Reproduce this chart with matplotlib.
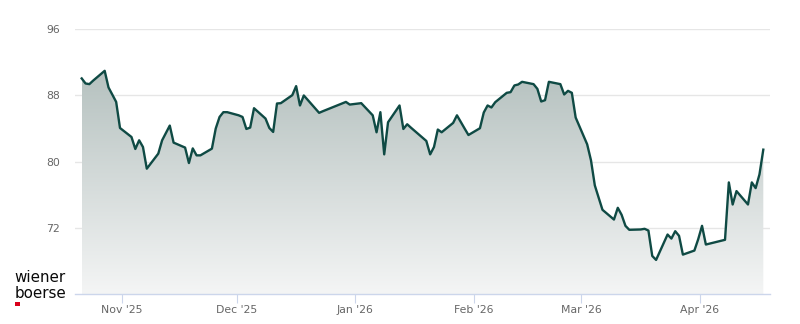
import numpy as np
import pandas as pd
import matplotlib
matplotlib.use("Agg")
import matplotlib.pyplot as plt
import matplotlib.dates as mdates
from matplotlib.colors import LinearSegmentedColormap

# closing prices (trading days)
dates = [
    "2025-10-21", "2025-10-22", "2025-10-23", "2025-10-24", "2025-10-27", "2025-10-28",
    "2025-10-29", "2025-10-30", "2025-10-31",
    "2025-11-03", "2025-11-04", "2025-11-05", "2025-11-06", "2025-11-07",
    "2025-11-10", "2025-11-11", "2025-11-12", "2025-11-13", "2025-11-14",
    "2025-11-17", "2025-11-18", "2025-11-19", "2025-11-20", "2025-11-21",
    "2025-11-24", "2025-11-25", "2025-11-26", "2025-11-27", "2025-11-28",
    "2025-12-01", "2025-12-02", "2025-12-03", "2025-12-04", "2025-12-05",
    "2025-12-08", "2025-12-09", "2025-12-10", "2025-12-11", "2025-12-12",
    "2025-12-15", "2025-12-16", "2025-12-17", "2025-12-18", "2025-12-19",
    "2025-12-22", "2025-12-23", "2025-12-29", "2025-12-30",
    "2026-01-02", "2026-01-05", "2026-01-06", "2026-01-07", "2026-01-08", "2026-01-09",
    "2026-01-12", "2026-01-13", "2026-01-14", "2026-01-15", "2026-01-16",
    "2026-01-19", "2026-01-20", "2026-01-21", "2026-01-22", "2026-01-23",
    "2026-01-26", "2026-01-27", "2026-01-28", "2026-01-29", "2026-01-30",
    "2026-02-02", "2026-02-03", "2026-02-04", "2026-02-05", "2026-02-06",
    "2026-02-09", "2026-02-10", "2026-02-11", "2026-02-12", "2026-02-13",
    "2026-02-16", "2026-02-17", "2026-02-18", "2026-02-19", "2026-02-20",
    "2026-02-23", "2026-02-24", "2026-02-25", "2026-02-26", "2026-02-27",
    "2026-03-02", "2026-03-03", "2026-03-04", "2026-03-05", "2026-03-06",
    "2026-03-09", "2026-03-10", "2026-03-11", "2026-03-12", "2026-03-13",
    "2026-03-16", "2026-03-17", "2026-03-18", "2026-03-19", "2026-03-20",
    "2026-03-23", "2026-03-24", "2026-03-25", "2026-03-26", "2026-03-27",
    "2026-03-30", "2026-03-31", "2026-04-01", "2026-04-02",
    "2026-04-07", "2026-04-08", "2026-04-09", "2026-04-10",
    "2026-04-13", "2026-04-14", "2026-04-15", "2026-04-16", "2026-04-17",
]
prices = [
    90.06, 89.45, 89.37, 89.80, 90.98, 88.97,
    88.10, 87.22, 84.07,
    82.98, 81.53, 82.58, 81.77, 79.15,
    80.97, 82.58, 83.47, 84.36, 82.30,
    81.70, 79.83, 81.60, 80.76, 80.76,
    81.57, 84.00, 85.40, 85.98, 85.98,
    85.60, 85.40, 83.95, 84.12, 86.46,
    85.21, 84.07, 83.59, 87.03, 87.07,
    88.04, 89.13, 86.79, 88.00, 87.48,
    85.90, 86.10, 87.22, 86.90,
    87.07, 85.60, 83.55, 85.98, 80.88, 84.76,
    86.79, 83.95, 84.52, 84.10, 83.70,
    82.50, 80.88, 81.77, 83.88, 83.55,
    84.68, 85.60, 84.80, 84.00, 83.22,
    84.04, 85.94, 86.79, 86.55, 87.19,
    88.32, 88.40, 89.21, 89.33, 89.65,
    89.37, 88.80, 87.27, 87.43, 89.65,
    89.37, 88.12, 88.56, 88.32, 85.33,
    82.10, 80.16, 77.13, 75.65, 74.18,
    73.00, 74.42, 73.57, 72.24, 71.76,
    71.80, 71.88, 71.67, 68.60, 68.12,
    71.19, 70.70, 71.59, 71.03, 68.76,
    69.25, 70.62, 72.24, 69.98,
    70.55, 77.49, 74.82, 76.44,
    74.82, 77.49, 76.80, 78.46, 81.45,
]
y_ticks = [72, 80, 88, 96]

line_col = "#0f4a44"
grey = "#666666"

t = pd.to_datetime(dates) + pd.Timedelta(hours=13)
x = mdates.date2num(t)
y = np.array(prices)
ymin, ymax = 64, 96

fig = plt.figure(figsize=(8, 3.24), dpi=100)
ax = fig.add_axes([0.09375, 0.0926, 0.86875, 0.817])

# gradient area under the line
poly = ax.fill_between(x, y, ymin, color="none", lw=0)
cmap = LinearSegmentedColormap.from_list("g", ["#f4f5f5", "#b5c1bf"])
grad = np.linspace(0, 1, 256).reshape(-1, 1)
im = ax.imshow(grad, cmap=cmap, aspect="auto", origin="lower",
               extent=[x[0], x[-1], ymin, y.max()], zorder=1)
im.set_clip_path(poly.get_paths()[0], transform=ax.transData)

ax.plot(x, y, color=line_col, lw=1.7, zorder=3)

pad = 1.75
ax.set_xlim(x[0] - pad, x[-1] + pad)
ax.set_ylim(ymin, ymax)

ax.set_yticks(y_ticks)
ax.grid(axis="y", color="#e6e6e6", lw=1)
ax.set_axisbelow(True)
ax.xaxis.set_major_locator(mdates.MonthLocator())
ax.xaxis.set_major_formatter(mdates.DateFormatter("%b '%y"))

for s in ["top", "right", "left"]:
    ax.spines[s].set_visible(False)
ax.spines["bottom"].set_color("#ccd6eb")
ax.spines["bottom"].set_linewidth(1)

ax.tick_params(axis="y", length=0, pad=11, labelsize=7.8, labelcolor=grey)
ax.tick_params(axis="x", length=6.5, width=0.8, color="#ccd6eb", pad=1.5,
               labelsize=7.8, labelcolor=grey)

# logo
fig.text(14.5 / 800, 1 - 282.5 / 324, "wiener", fontsize=10.9, family="DejaVu Sans",
         color="#0a0a0a", va="baseline", ha="left")
fig.text(14.5 / 800, 1 - 297.5 / 324, "boerse", fontsize=10.9, family="DejaVu Sans",
         color="#0a0a0a", va="baseline", ha="left")
fig.patches.append(plt.Rectangle((15 / 800, 1 - 305.5 / 324), 4.5 / 800, 3.8 / 324,
                                 transform=fig.transFigure, color="#d9001b", lw=0))

fig.savefig("out.png", dpi=100)
